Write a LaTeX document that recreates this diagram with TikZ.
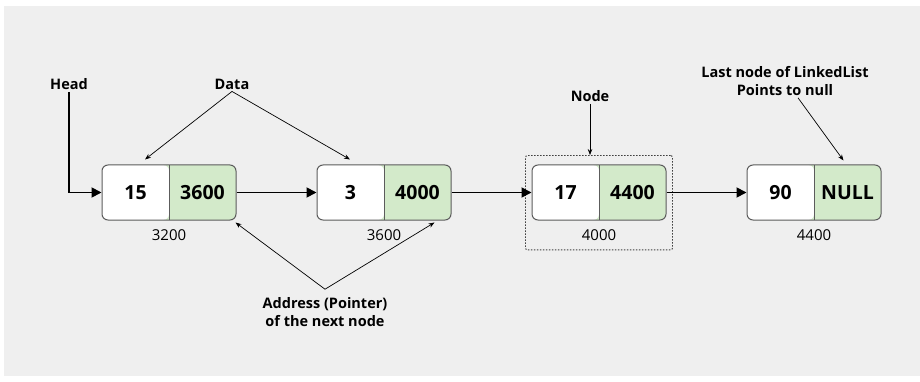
\documentclass[tikz,border=0pt]{standalone}
\usepackage{fontspec}
\setmainfont{Open Sans}
\usetikzlibrary{positioning,arrows.meta,fit}

\definecolor{bggray}{HTML}{EFEFEF}
\definecolor{ptrgreen}{HTML}{D3EACA}
\definecolor{edgegray}{HTML}{5C5C5C}

\begin{document}
\begin{tikzpicture}[x=1pt,y=-1pt,
		cell/.style={draw=edgegray,line width=1pt,rounded corners=6pt,
			fill=ptrgreen,minimum width=134pt,minimum height=55pt,inner sep=0pt,
			path picture={\fill[white] (path picture bounding box.south west)
				rectangle (path picture bounding box.north);
				\draw[edgegray,line width=1pt] (path picture bounding box.south)
				-- (path picture bounding box.north);}},
		val/.style={font=\fontsize{19.5}{23}\selectfont\bfseries,inner sep=0pt},
		addr/.style={font=\fontsize{15}{18}\selectfont,inner sep=0pt},
		lbl/.style={font=\fontsize{14.5}{18}\selectfont\bfseries,inner sep=2pt},
		link/.style={-{Triangle[length=10pt,width=10pt]},line width=1.8pt},
		ptr/.style={-{Stealth[length=6pt,width=4.5pt]},line width=0.7pt}]
		\useasboundingbox (0,0) rectangle (920,382);
		\fill[bggray] (4,6) rectangle (920,376);

		% create the nodes.
		\node[cell] (n1) at (169,192.5) {};
		\node[cell] (n2) [right=80pt of n1] {};
		\node[cell] (n3) [right=80pt of n2] {};
		\node[cell] (n4) [right=80pt of n3] {};

		\node[val] (v1) at ([xshift=-33.5pt]n1.center) {15};
		\node[val] (p1) at ([xshift=33.5pt]n1.center) {3600};
		\node[val] (v2) at ([xshift=-33.5pt]n2.center) {3};
		\node[val] (p2) at ([xshift=33.5pt]n2.center) {4000};
		\node[val] (v3) at ([xshift=-33.5pt]n3.center) {17};
		\node[val] (p3) at ([xshift=33.5pt]n3.center) {4400};
		\node[val] (v4) at ([xshift=-33.5pt]n4.center) {90};
		\node[val] (p4) at ([xshift=33.5pt]n4.center) {NULL};

		\node[addr] (a1) [below=9pt of n1] {3200};
		\node[addr] (a2) [below=9pt of n2] {3600};
		\node[addr] (a3) [below=9pt of n3] {4000};
		\node[addr] (a4) [below=9pt of n4] {4400};

		\node[draw=black!75,dash pattern=on 1.5pt off 1.5pt,line width=0.9pt,
			rounded corners=2pt,inner xsep=6pt,inner ysep=9pt,fit=(n3)(a3)] (frame) {};

		\node[lbl] (head) at (69,84) {Head};
		\node[lbl] (data) at (232,84) {Data};
		\node[lbl] (nodelbl) at (590,96) {Node};
		\node[lbl,align=center] (addrlbl) at (325,312) {Address (Pointer)\\of the next node};
		\node[lbl,align=center] (lastlbl) at (785,81) {Last node of LinkedList\\Points to null};

		% connect the nodes
		\draw[link] (head.south) |- (n1.west);
		\draw[link] (n1) -- (n2);
		\draw[link] (n2) -- (n3);
		\draw[link] (n3) -- (n4);

		\draw[ptr] (data.south) -- ([xshift=-24pt,yshift=5pt]n1.north);
		\draw[ptr] (data.south) -- ([xshift=-34pt,yshift=5pt]n2.north);
		\draw[ptr] (nodelbl.south) -- (frame.north -| nodelbl);
		\draw[ptr] ([yshift=6pt]addrlbl.north) -- ([xshift=-1pt,yshift=-2pt]n1.south east);
		\draw[ptr] ([yshift=6pt]addrlbl.north) -- ([xshift=-17pt,yshift=-2pt]n2.south east);
		\draw[ptr] ([xshift=13pt]lastlbl.south) -- ([xshift=-38pt,yshift=4pt]n4.north east);
	\end{tikzpicture}
\end{document}
